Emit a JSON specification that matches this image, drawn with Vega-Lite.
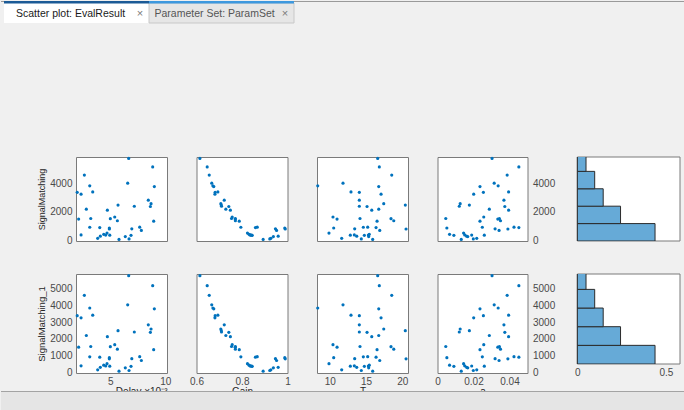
{
  "$schema": "https://vega.github.io/schema/vega-lite/v6.json",
  "background": "#f0f0f0",
  "padding": 0,
  "datasets": {
    "pts": [
      {"Delay":0.00667,"Gain":0.615,"T":16.61,"A":0.0303,"SignalMatching":5780,"SignalMatching_1":5780},
      {"Delay":0.00885,"Gain":0.647,"T":16.83,"A":0.0452,"SignalMatching":5180,"SignalMatching_1":5180},
      {"Delay":0.00264,"Gain":0.656,"T":18.54,"A":0.0387,"SignalMatching":4600,"SignalMatching_1":4600},
      {"Delay":0.00658,"Gain":0.667,"T":11.83,"A":0.0315,"SignalMatching":4030,"SignalMatching_1":4030},
      {"Delay":0.00313,"Gain":0.672,"T":8.35,"A":0.0337,"SignalMatching":3840,"SignalMatching_1":3840},
      {"Delay":0.0090,"Gain":0.676,"T":16.75,"A":0.0236,"SignalMatching":3790,"SignalMatching_1":3790},
      {"Delay":0.0034,"Gain":0.694,"T":12.93,"A":0.0395,"SignalMatching":3410,"SignalMatching_1":3410},
      {"Delay":0.00199,"Gain":0.682,"T":14.08,"A":0.0255,"SignalMatching":3380,"SignalMatching_1":3380},
      {"Delay":0.00234,"Gain":0.681,"T":17.07,"A":0.0201,"SignalMatching":3250,"SignalMatching_1":3250},
      {"Delay":0.00845,"Gain":0.722,"T":14.08,"A":0.0369,"SignalMatching":2830,"SignalMatching_1":2830},
      {"Delay":0.0087,"Gain":0.707,"T":17.44,"A":0.0126,"SignalMatching":2580,"SignalMatching_1":2580},
      {"Delay":0.0057,"Gain":0.709,"T":20.41,"A":0.0177,"SignalMatching":2480,"SignalMatching_1":2480},
      {"Delay":0.00718,"Gain":0.710,"T":14.08,"A":0.0121,"SignalMatching":2400,"SignalMatching_1":2400},
      {"Delay":0.00864,"Gain":0.742,"T":15.14,"A":0.0374,"SignalMatching":2380,"SignalMatching_1":2380},
      {"Delay":0.00282,"Gain":0.729,"T":16.75,"A":0.0288,"SignalMatching":2190,"SignalMatching_1":2190},
      {"Delay":0.00473,"Gain":0.749,"T":15.79,"A":0.0395,"SignalMatching":2120,"SignalMatching_1":2120},
      {"Delay":0.0054,"Gain":0.757,"T":10.45,"A":0.0257,"SignalMatching":1640,"SignalMatching_1":1640},
      {"Delay":0.00322,"Gain":0.754,"T":14.17,"A":0.0046,"SignalMatching":1530,"SignalMatching_1":1530},
      {"Delay":0.0050,"Gain":0.771,"T":18.44,"A":0.0344,"SignalMatching":1520,"SignalMatching_1":1520},
      {"Delay":0.00212,"Gain":0.770,"T":11.01,"A":0.0335,"SignalMatching":1490,"SignalMatching_1":1490},
      {"Delay":0.00564,"Gain":0.771,"T":18.82,"A":0.0350,"SignalMatching":1370,"SignalMatching_1":1370},
      {"Delay":0.00894,"Gain":0.788,"T":16.52,"A":0.0236,"SignalMatching":1340,"SignalMatching_1":1340},
      {"Delay":0.00767,"Gain":0.867,"T":15.23,"A":0.0425,"SignalMatching":920,"SignalMatching_1":920},
      {"Delay":0.00313,"Gain":0.795,"T":14.63,"A":0.0249,"SignalMatching":910,"SignalMatching_1":910},
      {"Delay":0.00404,"Gain":0.859,"T":16.38,"A":0.0452,"SignalMatching":890,"SignalMatching_1":890},
      {"Delay":0.00491,"Gain":0.988,"T":10.55,"A":0.0052,"SignalMatching":860,"SignalMatching_1":860},
      {"Delay":0.00695,"Gain":0.947,"T":13.44,"A":0.0320,"SignalMatching":800,"SignalMatching_1":800},
      {"Delay":0.00491,"Gain":0.990,"T":20.51,"A":0.0391,"SignalMatching":790,"SignalMatching_1":790},
      {"Delay":0.00782,"Gain":0.952,"T":16.89,"A":0.0342,"SignalMatching":690,"SignalMatching_1":690},
      {"Delay":0.0047,"Gain":0.824,"T":9.90,"A":0.0145,"SignalMatching":500,"SignalMatching_1":500},
      {"Delay":0.0044,"Gain":0.831,"T":15.45,"A":0.0067,"SignalMatching":410,"SignalMatching_1":410},
      {"Delay":0.00234,"Gain":0.835,"T":13.39,"A":0.0151,"SignalMatching":370,"SignalMatching_1":370},
      {"Delay":0.00458,"Gain":0.838,"T":15.32,"A":0.0190,"SignalMatching":360,"SignalMatching_1":360},
      {"Delay":0.00495,"Gain":0.842,"T":12.84,"A":0.0260,"SignalMatching":350,"SignalMatching_1":350},
      {"Delay":0.00688,"Gain":0.845,"T":14.77,"A":0.0091,"SignalMatching":340,"SignalMatching_1":340},
      {"Delay":0.00409,"Gain":0.959,"T":13.72,"A":0.0162,"SignalMatching":280,"SignalMatching_1":280},
      {"Delay":0.00636,"Gain":0.938,"T":15.37,"A":0.0168,"SignalMatching":250,"SignalMatching_1":250},
      {"Delay":0.00385,"Gain":0.927,"T":11.65,"A":0.0218,"SignalMatching":130,"SignalMatching_1":130},
      {"Delay":0.0067,"Gain":0.922,"T":14.35,"A":0.0199,"SignalMatching":90,"SignalMatching_1":90},
      {"Delay":0.00579,"Gain":0.893,"T":15.92,"A":0.0132,"SignalMatching":50,"SignalMatching_1":50}
    ],
    "hist": [
      {"lo":0,"hi":1200,"p":0.439},
      {"lo":1200,"hi":2400,"p":0.244},
      {"lo":2400,"hi":3600,"p":0.146},
      {"lo":3600,"hi":4800,"p":0.098},
      {"lo":4800,"hi":6000,"p":0.049}
    ],
    "tabs": [
      {"tab":"Scatter plot: EvalResult","state":"active"},
      {"tab":"Parameter Set: ParamSet","state":"inactive"}
    ]
  },
  "config": {
    "font": "Liberation Sans",
    "view": {"fill": "white", "stroke": "#7a7a7a", "strokeWidth": 1},
    "axis": {"grid": false, "domain": false, "ticks": false, "labelFont": "Liberation Sans", "labelFontSize": 10, "labelColor": "#4a4a4a", "labelPadding": 4, "labelFlush": false, "labelOverlap": false, "titleFont": "Liberation Sans", "titleFontSize": 10, "titleFontWeight": "normal", "titleColor": "#262626", "titlePadding": 3},
    "axisX": {"labelPadding": 3, "titlePadding": 0}
  },
  "columns": 5,
  "spacing": {"row": 33, "column": 29.5},
  "bounds": "flush",
  "concat": [
    {
      "width": 91, "height": 84,
      "layer": [
        {"data": {"name": "pts"}, "mark": {"type": "circle", "size": 10, "color": "#0072BD", "opacity": 1},
         "encoding": {
           "x": {"field": "Delay", "type": "quantitative", "scale": {"domain": [0.00188, 0.01015], "nice": false, "zero": false}, "axis": null},
           "y": {"field": "SignalMatching", "type": "quantitative", "scale": {"domain": [-60, 5880], "nice": false, "zero": false}, "axis": {"values": [0, 2000, 4000], "format": "d", "title": "SignalMatching", "titleFontSize": 9}}
         }},
        {"data": {"values": [{}]}, "mark": {"type": "rect", "fill": "#9a9a9a"},
         "encoding": {
           "x": {"datum": 0, "type": "quantitative", "scale": {"domain": [0, 1], "range": [-75, 609], "nice": false, "zero": false}, "axis": null},
           "x2": {"datum": 1},
           "y": {"datum": 21, "type": "quantitative", "scale": {"domain": [0, 22], "range": [-134, -156], "nice": false, "zero": false}, "axis": null},
           "y2": {"datum": 22}
         }},
        {"data": {"name": "tabs"}, "transform": [{"filter": "datum.state == 'active'"}],
         "mark": {"type": "rect", "fill": "#ffffff"},
         "encoding": {
           "x": {"field": "tab", "type": "nominal", "sort": null, "scale": {"type": "band", "domain": ["Scatter plot: EvalResult", "Parameter Set: ParamSet"], "range": [-72, 218], "paddingInner": 0, "paddingOuter": 0}, "axis": null},
           "y": {"datum": 0, "type": "quantitative", "scale": {"domain": [0, 22], "range": [-134, -156], "nice": false, "zero": false}, "axis": null},
           "y2": {"datum": 20}
         }},
        {"data": {"name": "tabs"}, "transform": [{"filter": "datum.state == 'inactive'"}],
         "mark": {"type": "rect", "fill": "#e6e6e6", "stroke": "#c8c8c8", "strokeWidth": 1},
         "encoding": {
           "x": {"field": "tab", "type": "nominal", "sort": null, "scale": {"type": "band", "domain": ["Scatter plot: EvalResult", "Parameter Set: ParamSet"], "range": [-72, 218], "paddingInner": 0, "paddingOuter": 0}, "axis": null},
           "y": {"datum": 0, "type": "quantitative", "scale": {"domain": [0, 22], "range": [-134, -156], "nice": false, "zero": false}, "axis": null},
           "y2": {"datum": 20}
         }},
        {"data": {"name": "tabs"}, "transform": [{"filter": "datum.state == 'active'"}],
         "mark": {"type": "rect", "fill": "#1b5a96"},
         "encoding": {
           "x": {"field": "tab", "type": "nominal", "sort": null, "scale": {"type": "band", "domain": ["Scatter plot: EvalResult", "Parameter Set: ParamSet"], "range": [-72, 218], "paddingInner": 0, "paddingOuter": 0}, "axis": null},
           "y": {"datum": 19.5, "type": "quantitative", "scale": {"domain": [0, 22], "range": [-134, -156], "nice": false, "zero": false}, "axis": null},
           "y2": {"datum": 22}
         }},
        {"data": {"name": "tabs"}, "transform": [{"filter": "datum.state == 'inactive'"}],
         "mark": {"type": "rect", "fill": "#3d98de"},
         "encoding": {
           "x": {"field": "tab", "type": "nominal", "sort": null, "scale": {"type": "band", "domain": ["Scatter plot: EvalResult", "Parameter Set: ParamSet"], "range": [-72, 218], "paddingInner": 0, "paddingOuter": 0}, "axis": null},
           "y": {"datum": 19.5, "type": "quantitative", "scale": {"domain": [0, 22], "range": [-134, -156], "nice": false, "zero": false}, "axis": null},
           "y2": {"datum": 22}
         }},
        {"data": {"name": "tabs"}, "transform": [{"filter": "datum.state == 'active'"}],
         "mark": {"type": "text", "align": "left", "baseline": "middle", "dx": -60.5, "fontSize": 10.5, "color": "#1a1a1a"},
         "encoding": {
           "x": {"field": "tab", "type": "nominal", "sort": null, "scale": {"type": "band", "domain": ["Scatter plot: EvalResult", "Parameter Set: ParamSet"], "range": [-72, 218], "paddingInner": 0, "paddingOuter": 0}, "axis": null},
           "y": {"datum": 9.5, "type": "quantitative", "scale": {"domain": [0, 22], "range": [-134, -156], "nice": false, "zero": false}, "axis": null},
           "text": {"field": "tab"}
         }},
        {"data": {"name": "tabs"}, "transform": [{"filter": "datum.state == 'inactive'"}],
         "mark": {"type": "text", "align": "left", "baseline": "middle", "dx": -67, "fontSize": 10.5, "color": "#555555"},
         "encoding": {
           "x": {"field": "tab", "type": "nominal", "sort": null, "scale": {"type": "band", "domain": ["Scatter plot: EvalResult", "Parameter Set: ParamSet"], "range": [-72, 218], "paddingInner": 0, "paddingOuter": 0}, "axis": null},
           "y": {"datum": 9.5, "type": "quantitative", "scale": {"domain": [0, 22], "range": [-134, -156], "nice": false, "zero": false}, "axis": null},
           "text": {"field": "tab"}
         }},
        {"data": {"name": "tabs"},
         "mark": {"type": "text", "align": "center", "baseline": "middle", "dx": 63.5, "fontSize": 11, "color": "#7a7a7a"},
         "encoding": {
           "x": {"field": "tab", "type": "nominal", "sort": null, "scale": {"type": "band", "domain": ["Scatter plot: EvalResult", "Parameter Set: ParamSet"], "range": [-72, 218], "paddingInner": 0, "paddingOuter": 0}, "axis": null},
           "y": {"datum": 9.5, "type": "quantitative", "scale": {"domain": [0, 22], "range": [-134, -156], "nice": false, "zero": false}, "axis": null},
           "text": {"value": "×"}
         }}
      ],
      "resolve": {"scale": {"x": "independent", "y": "independent"}}
    },
    {
      "width": 91, "height": 84, "data": {"name": "pts"},
      "mark": {"type": "circle", "size": 10, "color": "#0072BD", "opacity": 1},
      "encoding": {
        "x": {"field": "Gain", "type": "quantitative", "scale": {"domain": [0.6, 1.0], "nice": false, "zero": false}, "axis": null},
        "y": {"field": "SignalMatching", "type": "quantitative", "scale": {"domain": [-60, 5880], "nice": false, "zero": false}, "axis": null}
      }
    },
    {
      "width": 91, "height": 84, "data": {"name": "pts"},
      "mark": {"type": "circle", "size": 10, "color": "#0072BD", "opacity": 1},
      "encoding": {
        "x": {"field": "T", "type": "quantitative", "scale": {"domain": [8.25, 20.78], "nice": false, "zero": false}, "axis": null},
        "y": {"field": "SignalMatching", "type": "quantitative", "scale": {"domain": [-60, 5880], "nice": false, "zero": false}, "axis": null}
      }
    },
    {
      "width": 90, "height": 84, "data": {"name": "pts"},
      "mark": {"type": "circle", "size": 10, "color": "#0072BD", "opacity": 1},
      "encoding": {
        "x": {"field": "A", "type": "quantitative", "scale": {"domain": [0, 0.05], "nice": false, "zero": false}, "axis": null},
        "y": {"field": "SignalMatching", "type": "quantitative", "scale": {"domain": [-60, 5880], "nice": false, "zero": false}, "axis": {"orient": "right", "values": [0, 2000, 4000], "format": "d", "title": null, "labelPadding": 5}}
      }
    },
    {
      "width": 123, "height": 84,
      "view": {"fill": null, "stroke": null},
      "layer": [
        {"data": {"values": [{}]}, "mark": {"type": "rect", "fill": "white", "stroke": "#7a7a7a", "strokeWidth": 1},
         "encoding": {
           "x": {"datum": 0, "type": "quantitative", "scale": {"domain": [-0.115, 0.58], "nice": false, "zero": false}, "axis": null},
           "x2": {"datum": 0.58},
           "y": {"datum": 0, "type": "quantitative", "scale": {"domain": [0, 5790], "nice": false, "zero": false}, "axis": null},
           "y2": {"datum": 5790}
         }},
        {"data": {"name": "hist"}, "mark": {"type": "rect", "fill": "#66AAD7", "stroke": "#2b2b2b", "strokeWidth": 1, "clip": true},
         "encoding": {
           "x": {"field": "p", "type": "quantitative", "axis": null},
           "x2": {"datum": 0},
           "y": {"field": "lo", "type": "quantitative", "axis": null},
           "y2": {"field": "hi"}
         }}
      ]
    },
    {
      "width": 91, "height": 99, "data": {"name": "pts"},
      "mark": {"type": "circle", "size": 10, "color": "#0072BD", "opacity": 1},
      "encoding": {
        "x": {"field": "Delay", "type": "quantitative", "scale": {"domain": [0.00188, 0.01015], "nice": false, "zero": false}, "axis": {"values": [0.005, 0.01], "labelExpr": "format(datum.value*1000, '~g')", "title": "Delay   ×10⁻³", "titleAnchor": "end"}},
        "y": {"field": "SignalMatching_1", "type": "quantitative", "scale": {"domain": [-60, 5880], "nice": false, "zero": false}, "axis": {"values": [0, 1000, 2000, 3000, 4000, 5000], "format": "d", "title": "SignalMatching_1", "titleFontSize": 9.5}}
      }
    },
    {
      "width": 91, "height": 99, "data": {"name": "pts"},
      "mark": {"type": "circle", "size": 10, "color": "#0072BD", "opacity": 1},
      "encoding": {
        "x": {"field": "Gain", "type": "quantitative", "scale": {"domain": [0.6, 1.0], "nice": false, "zero": false}, "axis": {"values": [0.6, 0.8, 1], "format": "~g", "title": "Gain"}},
        "y": {"field": "SignalMatching_1", "type": "quantitative", "scale": {"domain": [-60, 5880], "nice": false, "zero": false}, "axis": null}
      }
    },
    {
      "width": 91, "height": 99, "data": {"name": "pts"},
      "mark": {"type": "circle", "size": 10, "color": "#0072BD", "opacity": 1},
      "encoding": {
        "x": {"field": "T", "type": "quantitative", "scale": {"domain": [8.25, 20.78], "nice": false, "zero": false}, "axis": {"values": [10, 15, 20], "format": "~g", "title": "T"}},
        "y": {"field": "SignalMatching_1", "type": "quantitative", "scale": {"domain": [-60, 5880], "nice": false, "zero": false}, "axis": null}
      }
    },
    {
      "width": 90, "height": 99, "data": {"name": "pts"},
      "mark": {"type": "circle", "size": 10, "color": "#0072BD", "opacity": 1},
      "encoding": {
        "x": {"field": "A", "type": "quantitative", "scale": {"domain": [0, 0.05], "nice": false, "zero": false}, "axis": {"values": [0, 0.02, 0.04], "format": "~g", "title": "a"}},
        "y": {"field": "SignalMatching_1", "type": "quantitative", "scale": {"domain": [-60, 5880], "nice": false, "zero": false}, "axis": {"orient": "right", "values": [0, 1000, 2000, 3000, 4000, 5000], "format": "d", "title": null, "labelPadding": 5}}
      }
    },
    {
      "width": 123, "height": 90,
      "view": {"fill": null, "stroke": null},
      "layer": [
        {"data": {"values": [{}]}, "mark": {"type": "rect", "fill": "white", "stroke": "#7a7a7a", "strokeWidth": 1},
         "encoding": {
           "x": {"datum": 0, "type": "quantitative", "scale": {"domain": [-0.115, 0.58], "nice": false, "zero": false}, "axis": {"values": [0, 0.5], "format": "~g", "title": null}},
           "x2": {"datum": 0.58},
           "y": {"datum": 0, "type": "quantitative", "scale": {"domain": [0, 5790], "nice": false, "zero": false}, "axis": null},
           "y2": {"datum": 5790}
         }},
        {"data": {"name": "hist"}, "mark": {"type": "rect", "fill": "#66AAD7", "stroke": "#2b2b2b", "strokeWidth": 1, "clip": true},
         "encoding": {
           "x": {"field": "p", "type": "quantitative", "scale": {"domain": [-0.115, 0.58], "nice": false, "zero": false}, "axis": null},
           "x2": {"datum": 0},
           "y": {"field": "lo", "type": "quantitative", "scale": {"domain": [0, 5790], "nice": false, "zero": false}, "axis": null},
           "y2": {"field": "hi"}
         }},
        {"data": {"values": [{}]}, "mark": {"type": "rect", "fill": "#e5e5e5"},
         "encoding": {
           "x": {"datum": 0, "type": "quantitative", "scale": {"domain": [0, 1], "range": [-556, 128], "nice": false, "zero": false}, "axis": null},
           "x2": {"datum": 1},
           "y": {"datum": 0, "type": "quantitative", "scale": {"domain": [0, 1], "range": [117, 137], "nice": false, "zero": false}, "axis": null},
           "y2": {"datum": 1}
         }},
        {"data": {"values": [{}]}, "mark": {"type": "rect", "fill": "#a3a3a3"},
         "encoding": {
           "x": {"datum": 0, "type": "quantitative", "scale": {"domain": [0, 1], "range": [-556, 128], "nice": false, "zero": false}, "axis": null},
           "x2": {"datum": 1},
           "y": {"datum": 0, "type": "quantitative", "scale": {"domain": [0, 1], "range": [117, 137], "nice": false, "zero": false}, "axis": null},
           "y2": {"datum": 0.05}
         }}
      ],
      "resolve": {"scale": {"x": "independent", "y": "independent"}}
    }
  ]
}
